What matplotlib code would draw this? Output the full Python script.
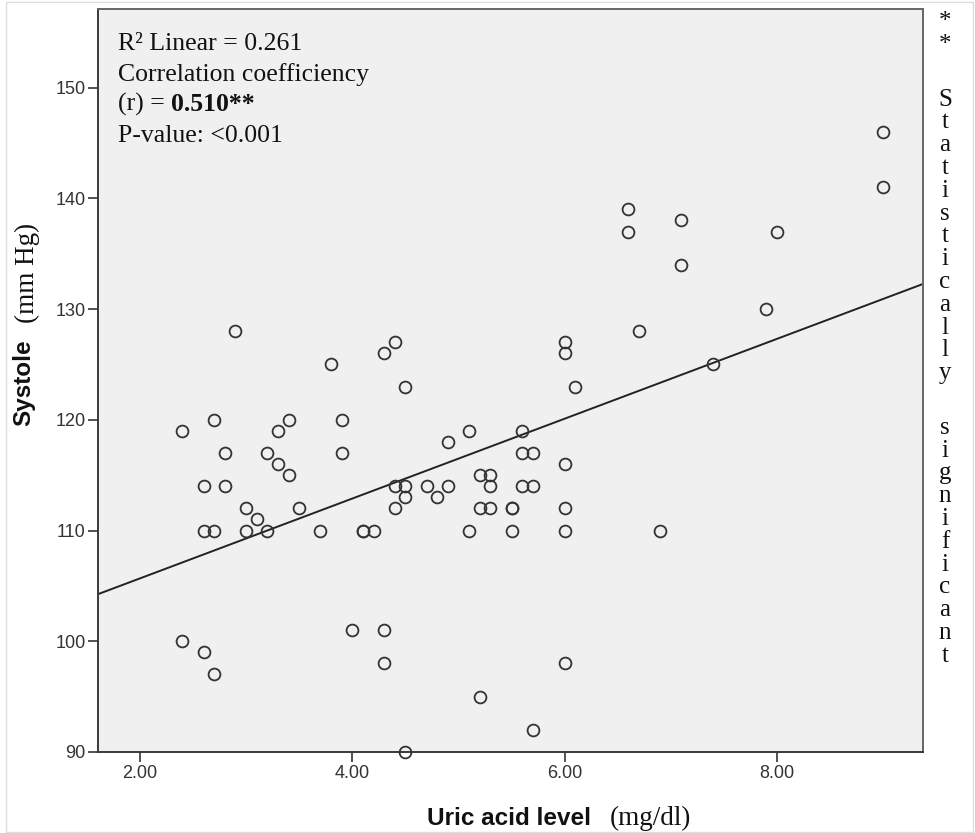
import numpy as np
import matplotlib
matplotlib.use("Agg")
import matplotlib.pyplot as plt
from matplotlib.patches import Rectangle

# Datos: ácido úrico (mg/dl) vs presión sistólica (mm Hg)
uric_acid = [2.4, 2.4, 2.6, 2.6, 2.6, 2.7, 2.7, 2.7, 2.8, 2.8, 2.9, 3.0, 3.0, 3.1,
             3.2, 3.2, 3.3, 3.3, 3.4, 3.4, 3.5, 3.7, 3.8, 3.9, 3.9, 4.0, 4.1, 4.1,
             4.2, 4.3, 4.3, 4.3, 4.4, 4.4, 4.4, 4.5, 4.5, 4.5, 4.5, 4.7, 4.8, 4.9,
             4.9, 5.1, 5.1, 5.2, 5.2, 5.2, 5.3, 5.3, 5.3, 5.5, 5.5, 5.5, 5.6, 5.6,
             5.6, 5.7, 5.7, 5.7, 6.0, 6.0, 6.0, 6.0, 6.0, 6.0, 6.1, 6.6, 6.6, 6.7,
             6.9, 7.1, 7.1, 7.4, 7.9, 8.0, 9.0, 9.0]
systole = [119, 100, 114, 110, 99, 120, 110, 97, 117, 114, 128, 112, 110, 111,
           117, 110, 119, 116, 120, 115, 112, 110, 125, 120, 117, 101, 110, 110,
           110, 126, 101, 98, 127, 114, 112, 123, 114, 113, 90, 114, 113, 118,
           114, 119, 110, 115, 112, 95, 115, 114, 112, 112, 112, 110, 119, 117,
           114, 117, 114, 92, 127, 126, 116, 112, 110, 98, 123, 139, 137, 128,
           110, 138, 134, 125, 130, 137, 146, 141]

x_ticks = [2, 4, 6, 8]
x_tick_labels = ["2.00", "4.00", "6.00", "8.00"]
y_ticks = [90, 100, 110, 120, 130, 140, 150]
y_tick_labels = ["90", "100", "110", "120", "130", "140", "150"]

stats_lines = ["R\u00b2 Linear = 0.261", "Correlation coefficiency", "(r) = ", "P-value: <0.001"]
r_value = "0.510**"
side_note = "** Statistically significant"

SERIF = "Liberation Serif"
SANS = "Liberation Sans"

W, H = 975, 833
fig = plt.figure(figsize=(W / 100, H / 100), dpi=100)
ax = fig.add_axes([98 / W, 1 - 752 / H, (923 - 98) / W, (752 - 9) / H])
ax.set_facecolor("#F0F0F0")

xlim = (1.605, 9.375)
ax.set_xlim(*xlim)
ax.set_ylim(90, 157.1)

ax.plot(uric_acid, systole, linestyle="none", marker="o", markersize=8.5,
        markerfacecolor="none", markeredgecolor="#333333", markeredgewidth=1.3,
        clip_on=False, zorder=3)

# Recta de regresión
m, b = np.polyfit(uric_acid, systole, 1)
xs = np.array(xlim)
ax.plot(xs, m * xs + b, color="#222222", linewidth=1.4, zorder=2)

ax.set_xticks(x_ticks)
ax.set_xticklabels(x_tick_labels, family=SANS, fontsize=13, color="#333333")
ax.set_yticks(y_ticks)
ax.set_yticklabels(y_tick_labels, family=SANS, fontsize=13, color="#333333")
ax.tick_params(direction="out", length=7, width=1.2, color="#333333", pad=2)

for side in ["left", "bottom"]:
    ax.spines[side].set_color("#3a3a3a")
    ax.spines[side].set_linewidth(1.4)
for side in ["top", "right"]:
    ax.spines[side].set_color("#666666")
    ax.spines[side].set_linewidth(1.4)

# Texto de estadísticos
baselines = [50, 80.5, 111, 142]
for txt, yb in zip(stats_lines, baselines):
    t = fig.text(118 / W, 1 - yb / H, txt, family=SERIF, fontsize=18.5,
                 ha="left", va="baseline", color="#111111")
    if txt.startswith("(r)"):
        ax.annotate(r_value, xy=(1, 0), xycoords=t, ha="left", va="bottom",
                    family=SERIF, fontsize=18.5, fontweight="bold", color="#111111")

# Etiquetas de ejes (negrita sans + unidades serif)
fig.text(427 / W, 1 - 825 / H, "Uric acid level", family=SANS, fontsize=17.5,
         fontweight="bold", ha="left", va="baseline", color="#111111")
fig.text(610 / W, 1 - 825 / H, "(mg/dl)", family=SERIF, fontsize=19.5,
         ha="left", va="baseline", color="#111111")
fig.text(24 / W, 1 - 383 / H, "Systole", family=SANS, fontsize=17.5,
         fontweight="bold", rotation=90, ha="center", va="center", color="#111111")
fig.text(27 / W, 1 - 273 / H, "(mm Hg)", family=SERIF, fontsize=19.5,
         rotation=90, ha="center", va="center", color="#111111")

# Nota vertical a la derecha, letra por letra
pitch = 22.8
yy = 22
for ch in side_note:
    if ch == " ":
        yy += 1.4 * pitch
        continue
    fig.text(945 / W, 1 - yy / H, ch, family=SERIF, fontsize=18,
             ha="center", va="center", color="#111111")
    yy += pitch

# Marco claro de la imagen
fig.patches.append(Rectangle((6 / W, 1 / H), (W - 8) / W, (H - 3) / H,
                             transform=fig.transFigure, fill=False,
                             edgecolor="#DDDDDD", linewidth=1))

fig.savefig("out.png", dpi=100)
